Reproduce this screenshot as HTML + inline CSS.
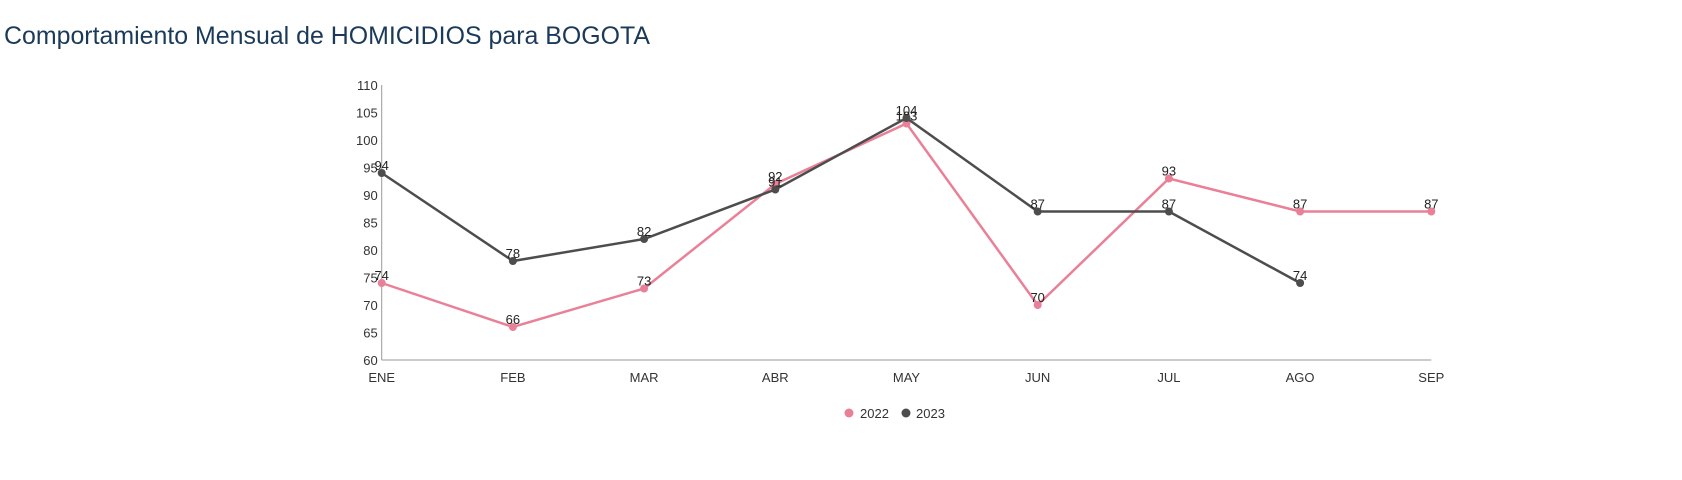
<!DOCTYPE html>
<html><head><meta charset="utf-8"><style>
html,body{margin:0;padding:0;background:#fff;width:1682px;height:480px;overflow:hidden}
</style></head><body>
<svg id="s" width="1682" height="480" xmlns="http://www.w3.org/2000/svg" font-family="Liberation Sans, DejaVu Sans, sans-serif">
<text x="4" y="44" font-size="25" fill="#1b3a5a" textLength="646" lengthAdjust="spacingAndGlyphs">Comportamiento Mensual de HOMICIDIOS para BOGOTA</text>
</svg>
<script>
var s=document.getElementById('s'),NS='http://www.w3.org/2000/svg';
function el(t,a,txt){var e=document.createElementNS(NS,t);for(var k in a)e.setAttribute(k,a[k]);if(txt!=null)e.textContent=txt;s.appendChild(e);return e;}
var x0=381.7,dx=131.2;function X(i){return x0+i*dx}function Y(v){return 360-(v-60)*5.5}
el('line',{x1:x0,y1:360,x2:X(8),y2:360,stroke:'#999','stroke-width':1});
el('line',{x1:x0,y1:Y(110),x2:x0,y2:360,stroke:'#999','stroke-width':1});
for(var v=60;v<=110;v+=5)el('text',{x:x0-4,y:Y(v)+5,'font-size':13,fill:'#333','text-anchor':'end'},v);
var m=['ENE','FEB','MAR','ABR','MAY','JUN','JUL','AGO','SEP'];
m.forEach(function(t,i){el('text',{x:X(i),y:382,'font-size':13,fill:'#333','text-anchor':'middle'},t)});
var a=[74,66,73,92,103,70,93,87,87],b=[94,78,82,91,104,87,87,74];
function ser(d,c){el('polyline',{points:d.map(function(v,i){return X(i)+','+Y(v)}).join(' '),fill:'none',stroke:c,'stroke-width':2.5});
d.forEach(function(v,i){el('circle',{cx:X(i),cy:Y(v),r:4,fill:c});el('text',{x:X(i),y:Y(v)-3,'font-size':13,fill:'#222','text-anchor':'middle'},v)});}
ser(a,'#ea8098');ser(b,'#4d4d4d');
el('circle',{cx:849,cy:413,r:4.5,fill:'#ea8098'});el('text',{x:860,y:418,'font-size':13,fill:'#333'},'2022');
el('circle',{cx:906,cy:413,r:4.5,fill:'#4d4d4d'});el('text',{x:916,y:418,'font-size':13,fill:'#333'},'2023');
</script>
</body></html>
